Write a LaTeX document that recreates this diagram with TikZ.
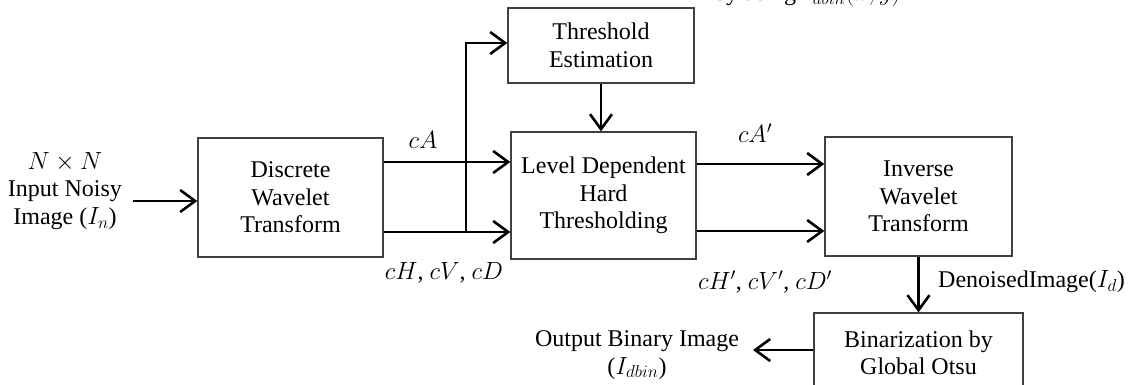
\documentclass[tikz,border=0pt]{standalone}
\usepackage{fontspec}
\setmainfont{Liberation Serif}
\usetikzlibrary{arrows.meta}
\begin{document}
\begin{tikzpicture}[x=1pt,y=-1pt,
  font=\fontsize{24}{27.5}\selectfont,
  box/.style={draw=black!75,line width=1.3pt,align=center,inner sep=0pt},
  txt/.style={align=center,inner sep=0pt},
  arr/.style={line width=2.6pt,-{Straight Barb[length=15pt,width=22pt]}}]
\useasboundingbox (0,0) rectangle (1132,385);
% boxes
\node[box,minimum width=185pt,minimum height=119pt] (dwt) at (290.5,197.5) {Discrete\\Wavelet\\Transform};
\node[box,minimum width=186pt,minimum height=75pt] (thr) at (601,45.5) {Threshold\\Estimation};
\node[box,minimum width=185pt,minimum height=127pt] (ldht) at (603.5,195.5) {Level Dependent\\Hard\\Thresholding};
\node[box,minimum width=187pt,minimum height=119pt] (iwt) at (918.5,196.5) {Inverse\\Wavelet\\Transform};
\node[box,minimum width=209pt,minimum height=80pt] (bin) at (918.5,353) {Binarization by\\Global Otsu};
% free texts
\node[txt] (in) at (65,191) {$N\times N$\\Input Noisy\\Image ($I_n$)};
\node[txt] (out) at (637,355) {Output Binary Image\\($I_{dbin}$)};
\node[txt] (lcA) at (423,140) {$cA$};
\node[txt] (lcH) at (444,273) {$cH$, $cV$, $cD$};
\node[txt] (lcAp) at (755,133) {$cA'$};
\node[txt] (lcHp) at (765,282) {$cH'$, $cV'$, $cD'$};
\node[txt,anchor=west] (lden) at (938,282) {DenoisedImage($I_d$)};
\node[txt,anchor=base west] (cap) at (714,1) {by using $I_{dbin}(x,y)$};
% connectors
\coordinate (inA) at (133,201);
\draw[arr] (inA) -- (inA -| dwt.west);
\draw[arr] (dwt.east |- 0,162) -- (ldht.west |- 0,162);
\draw[arr] (dwt.east |- 0,232) -- (ldht.west |- 0,232);
\coordinate (sp) at (466,232);
\draw[arr] (sp) -- (sp |- 0,43) -- (thr.west |- 0,43);
\draw[arr] (thr.south) -- (thr.south |- ldht.north);
\draw[arr] (ldht.east |- 0,164) -- (iwt.west |- 0,164);
\draw[arr] (ldht.east |- 0,231) -- (iwt.west |- 0,231);
\draw[arr] (iwt.south) -- (bin.north);
\coordinate (outA) at (753,350);
\draw[arr] (bin.west |- outA) -- (outA);
\end{tikzpicture}
\end{document}
